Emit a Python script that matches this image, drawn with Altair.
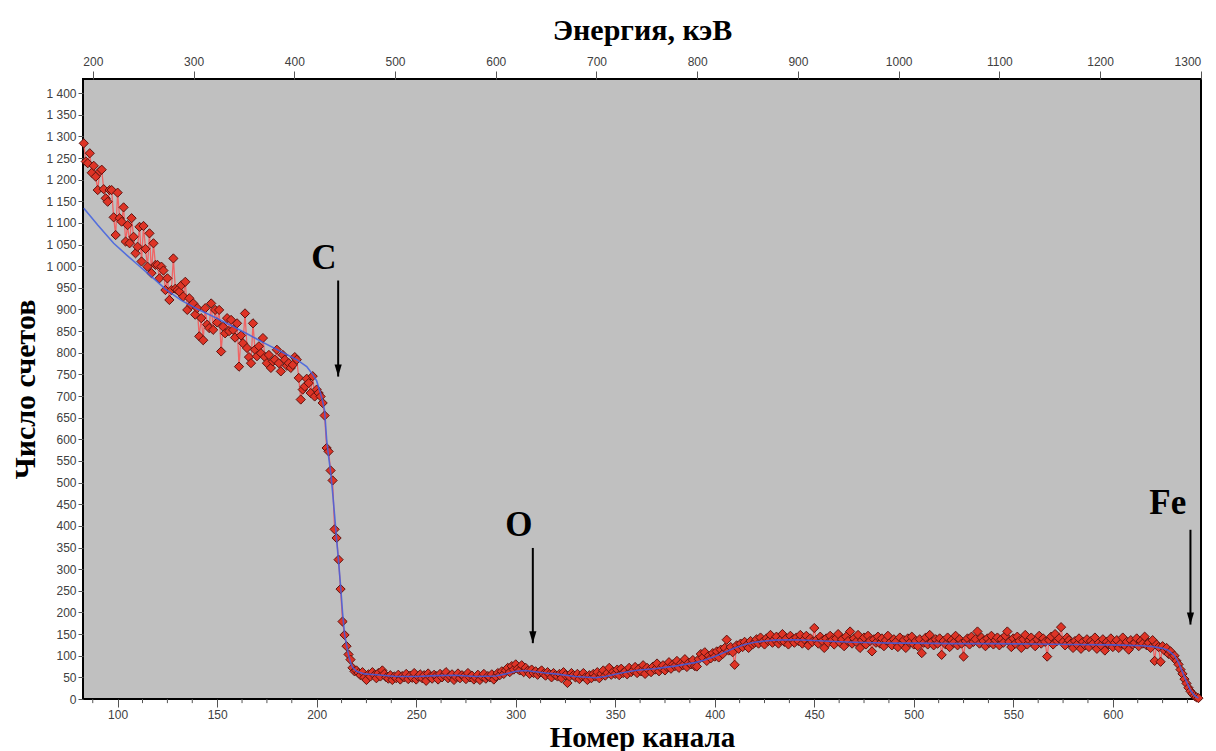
import altair as alt
import pandas as pd

# ---------------- data ----------------
channel_start = 83
counts = [
    1284, 1242, 1238, 1261, 1216, 1232, 1207, 1176, 1219, 1223,   # 83
    1178, 1157, 1149, 1176, 1176, 1113, 1072, 1170, 1111, 1103,   # 93
    1136, 1057, 1095, 1053, 1111, 1068, 1030, 1045, 1091, 1011,   # 103
    1093, 1040, 999, 1076, 984, 1053, 1003, 1003, 972, 999,       # 113
    990, 945, 972, 922, 945, 1018, 948, 945, 941, 956,            # 123
    930, 964, 899, 926, 910, 914, 888, 903, 838, 880,             # 133
    829, 903, 865, 857, 914, 853, 899, 870, 899, 803,             # 143
    860, 845, 880, 850, 876, 853, 835, 868, 768, 840,             # 153
    822, 891, 811, 790, 776, 868, 807, 792, 815, 799,             # 163
    834, 790, 776, 795, 765, 780, 784, 807, 776, 757,             # 173
    795, 784, 770, 776, 765, 772, 790, 784, 742, 692,             # 183
    715, 722, 740, 730, 707, 746, 699, 715, 707, 699,             # 193
    684, 655, 580, 572, 528, 505, 392, 372, 322, 254,             # 203
    179, 148, 122, 103, 91, 72, 64, 66, 60, 55,                   # 213
    62, 50, 44, 57, 52, 62, 55, 48, 60, 52,                       # 223
    66, 58, 50, 47, 55, 44, 52, 48, 56, 45,                       # 233
    53, 50, 58, 46, 54, 49, 60, 45, 52, 57,                       # 243
    48, 55, 42, 59, 51, 47, 56, 53, 45, 58,                       # 253
    50, 55, 62, 48, 53, 57, 44, 51, 59, 48,                       # 263
    55, 52, 46, 60, 50, 54, 45, 49, 56, 44,                       # 273
    52, 58, 47, 53, 50, 57, 45, 52, 60, 55,                       # 283
    64, 58, 66, 72, 62, 76, 68, 80, 70, 66,                       # 293
    78, 62, 72, 65, 58, 68, 60, 64, 56, 62,                       # 303
    66, 58, 54, 62, 57, 50, 60, 55, 52, 58,                       # 313
    48, 62, 55, 37, 52, 60, 55, 50, 58, 46,                       # 323
    53, 60, 50, 44, 55, 48, 58, 52, 62, 48,                       # 333
    58, 66, 54, 60, 72, 56, 63, 58, 68, 55,                       # 343
    70, 60, 64, 57, 72, 62, 66, 74, 60, 70,                       # 353
    64, 78, 58, 72, 66, 62, 75, 68, 82, 64,                       # 363
    72, 78, 66, 74, 85, 70, 80, 76, 88, 72,                       # 373
    82, 78, 92, 74, 84, 80, 90, 76, 75, 92,                       # 383
    104, 96, 108, 88, 100, 94, 106, 98, 110, 96,                  # 393
    114, 104, 118, 137, 112, 120, 108, 79, 124, 116,              # 403
    128, 120, 132, 124, 118, 134, 126, 130, 138, 128,             # 413
    142, 132, 126, 140, 134, 148, 130, 138, 144, 128,             # 423
    136, 150, 132, 140, 126, 146, 136, 130, 142, 134,             # 433
    148, 128, 138, 146, 124, 140, 132, 164, 136, 128,             # 443
    144, 134, 118, 140, 130, 146, 136, 126, 140, 150,             # 453
    130, 138, 122, 144, 134, 156, 128, 140, 132, 148,             # 463
    118, 136, 142, 126, 146, 134, 110, 138, 130, 144,             # 473
    128, 140, 122, 136, 146, 130, 124, 138, 132, 120,             # 483
    142, 128, 136, 118, 140, 130, 144, 126, 134, 122,             # 493
    138, 106, 130, 142, 126, 148, 132, 124, 138, 128,             # 503
    140, 102, 134, 126, 142, 120, 136, 130, 146, 124,             # 513
    138, 128, 98, 134, 140, 126, 144, 132, 138, 156,              # 523
    128, 142, 134, 122, 140, 130, 146, 126, 136, 142,             # 533
    124, 138, 130, 146, 156, 132, 120, 140, 128, 144,             # 543
    134, 118, 138, 148, 126, 136, 142, 130, 122, 138,             # 553
    146, 128, 140, 132, 98, 136, 144, 126, 150, 134,              # 563
    140, 166, 132, 124, 142, 136, 128, 118, 134, 126,             # 573
    140, 116, 132, 124, 138, 120, 134, 128, 142, 116,             # 583
    130, 124, 138, 112, 132, 126, 140, 120, 130, 136,             # 593
    118, 128, 142, 124, 132, 114, 136, 126, 130, 140,             # 603
    122, 134, 128, 144, 124, 130, 118, 136, 88, 126,              # 613
    120, 86, 122, 112, 118, 104, 110, 98, 100, 88,                # 623
    80, 68, 58, 46, 36, 26, 18, 12, 7, 4, 2,                      # 633
]
channels = [channel_start + i for i in range(len(counts))]

fit_channels = [83, 90, 98, 105, 110, 115, 120, 124, 132, 140,
                148, 157, 165, 173, 182, 190, 195, 198, 200, 202,
                203, 204, 205, 206, 207, 208, 209, 210, 211, 212,
                213, 214, 215, 216, 217, 218, 220, 224, 230, 240,
                250, 260, 270, 280, 290, 295, 300, 305, 310, 315,
                320, 330, 340, 345, 350, 355, 360, 365, 370, 375,
                380, 385, 390, 395, 400, 405, 410, 415, 420, 425,
                430, 440, 450, 460, 470, 480, 490, 500, 520, 540,
                560, 580, 600, 615, 620, 625, 628, 631, 633, 635,
                637, 639, 641, 643]
fit_counts = [1134, 1095, 1053, 1024, 1004, 984, 964, 947, 921, 901,
              884, 863, 844, 824, 803, 784, 768, 750, 735, 705,
              688, 665, 600, 560, 525, 478, 425, 370, 318, 262,
              200, 150, 125, 102, 85, 73, 64, 58, 56, 52,
              52, 54, 55, 52, 53, 58, 64, 66, 63, 60,
              58, 52, 49, 52, 57, 62, 66, 68, 70, 73,
              76, 80, 84, 90, 98, 108, 118, 126, 131, 134,
              136, 137, 135, 133, 131, 130, 129, 129, 128, 128,
              127, 126, 125, 123, 121, 117, 112, 100, 84, 62,
              40, 20, 8, 2]

channel_ticks = [100, 150, 200, 250, 300, 350, 400, 450, 500, 550, 600]
minor_channel_ticks = [87.5 + 12.5 * i for i in range(45) if (87.5 + 12.5 * i) % 50 != 0]
energy_ticks = [200, 300, 400, 500, 600, 700, 800, 900, 1000, 1100, 1200, 1300]
count_ticks = [50 * i for i in range(29)]

ann_labels = ["C", "O", "Fe"]
ann_text_channel = [203.6, 301.6, 627.6]
ann_text_count = [1019, 401, 453]
arrow_channel = [210.8, 308.6, 639.0]
arrow_top = [967, 349, 391]
arrow_tip = [745, 129, 172]

# ---------------- chart ----------------
points_df = pd.DataFrame({"channel": channels, "count": counts})
fit_df = pd.DataFrame({"channel": fit_channels, "count": fit_counts})
ann_df = pd.DataFrame({"label": ann_labels, "channel": ann_text_channel, "count": ann_text_count})
arrow_df = pd.DataFrame({"channel": arrow_channel, "count": arrow_top, "tip": arrow_tip})
minor_df = pd.DataFrame({"channel": minor_channel_ticks,
                         "count": [0] * len(minor_channel_ticks),
                         "tip": [-9.5] * len(minor_channel_ticks)})
energy_df = pd.DataFrame({"energy": energy_ticks, "count": [0] * len(energy_ticks)})

LABEL_FONT = "Liberation Sans"
TITLE_FONT = "Liberation Serif"

x_axis = alt.Axis(
    title="Номер канала", values=channel_ticks, format="d",
    tickSize=8, tickColor="#555555", labelColor="#404040", labelFont=LABEL_FONT, labelFontSize=12,
    labelPadding=2, domain=False, grid=False,
    titleFont=TITLE_FONT, titleFontSize=29, titleFontWeight="bold", titleColor="black",
    titlePadding=3,
)
y_axis = alt.Axis(
    title="Число счетов", values=count_ticks,
    labelExpr="replace(format(datum.value, ','), ',', ' ')",
    tickSize=5, tickColor="#555555", labelColor="#404040", labelFont=LABEL_FONT,
    labelFontSize=12, labelPadding=2, domain=False, grid=False,
    titleFont=TITLE_FONT, titleFontSize=30, titleFontWeight="bold", titleColor="black",
    titlePadding=5,
)
top_axis = alt.Axis(
    orient="top", title="Энергия, кэВ", values=energy_ticks, format="d",
    tickSize=8, tickColor="#555555", labelColor="#404040", labelFont=LABEL_FONT,
    labelFontSize=12, labelPadding=3, domain=False, grid=False,
    titleFont=TITLE_FONT, titleFontSize=30, titleFontWeight="bold", titleColor="black",
    titlePadding=10,
)

x_scale = alt.Scale(domain=[82.6, 644.3], nice=False, zero=False)
y_scale = alt.Scale(domain=[0, 1432.6], nice=False, zero=False)

X = alt.X("channel:Q", scale=x_scale, axis=x_axis)
Y = alt.Y("count:Q", scale=y_scale, axis=y_axis)

raw_line = alt.Chart(points_df).mark_line(color="#f06464", strokeWidth=1.3).encode(x=X, y=Y)
raw_pts = alt.Chart(points_df).mark_point(
    shape="diamond", filled=True, size=85, fill="#de3426", stroke="#5e1410",
    strokeWidth=1, opacity=1,
).encode(x=X, y=Y)
fit_line = alt.Chart(fit_df).mark_line(color="#3f5fe0", strokeWidth=1.6, opacity=0.85).encode(x=X, y=Y)

arrows = alt.Chart(arrow_df).mark_rule(color="black", strokeWidth=2).encode(
    x=X, y=Y, y2=alt.Y2("tip:Q"))
heads = alt.Chart(arrow_df).mark_point(
    shape="M-0.6,-2 L0.6,-2 L0,0 Z", size=144, filled=True, color="black", opacity=1,
).encode(x=X, y=alt.Y("tip:Q", scale=y_scale, axis=y_axis))
labels = alt.Chart(ann_df).mark_text(
    font=TITLE_FONT, fontSize=35, fontWeight="bold", color="black", baseline="middle",
).encode(x=X, y=Y, text="label:N")
minor_ticks = alt.Chart(minor_df).mark_rule(color="#555555", strokeWidth=1, clip=False).encode(
    x=X, y=Y, y2=alt.Y2("tip:Q"))

main = alt.layer(raw_line, raw_pts, fit_line, arrows, heads, labels, minor_ticks)

energy_layer = alt.Chart(energy_df).mark_point(opacity=0).encode(
    x=alt.X("energy:Q", scale=alt.Scale(domain=[190.2, 1300.2], nice=False, zero=False), axis=top_axis),
    y=Y,
)

chart = alt.layer(main, energy_layer).resolve_scale(x="independent").properties(
    width=1118, height=620,
    autosize=alt.AutoSizeParams(type="none"),
    padding={"left": 75, "top": 71, "right": 7, "bottom": 56},
    background="white",
).configure_view(fill="#c0c0c0", stroke="black", strokeWidth=2)

chart.save("out.html", embed_options={"renderer": "svg", "actions": False})
